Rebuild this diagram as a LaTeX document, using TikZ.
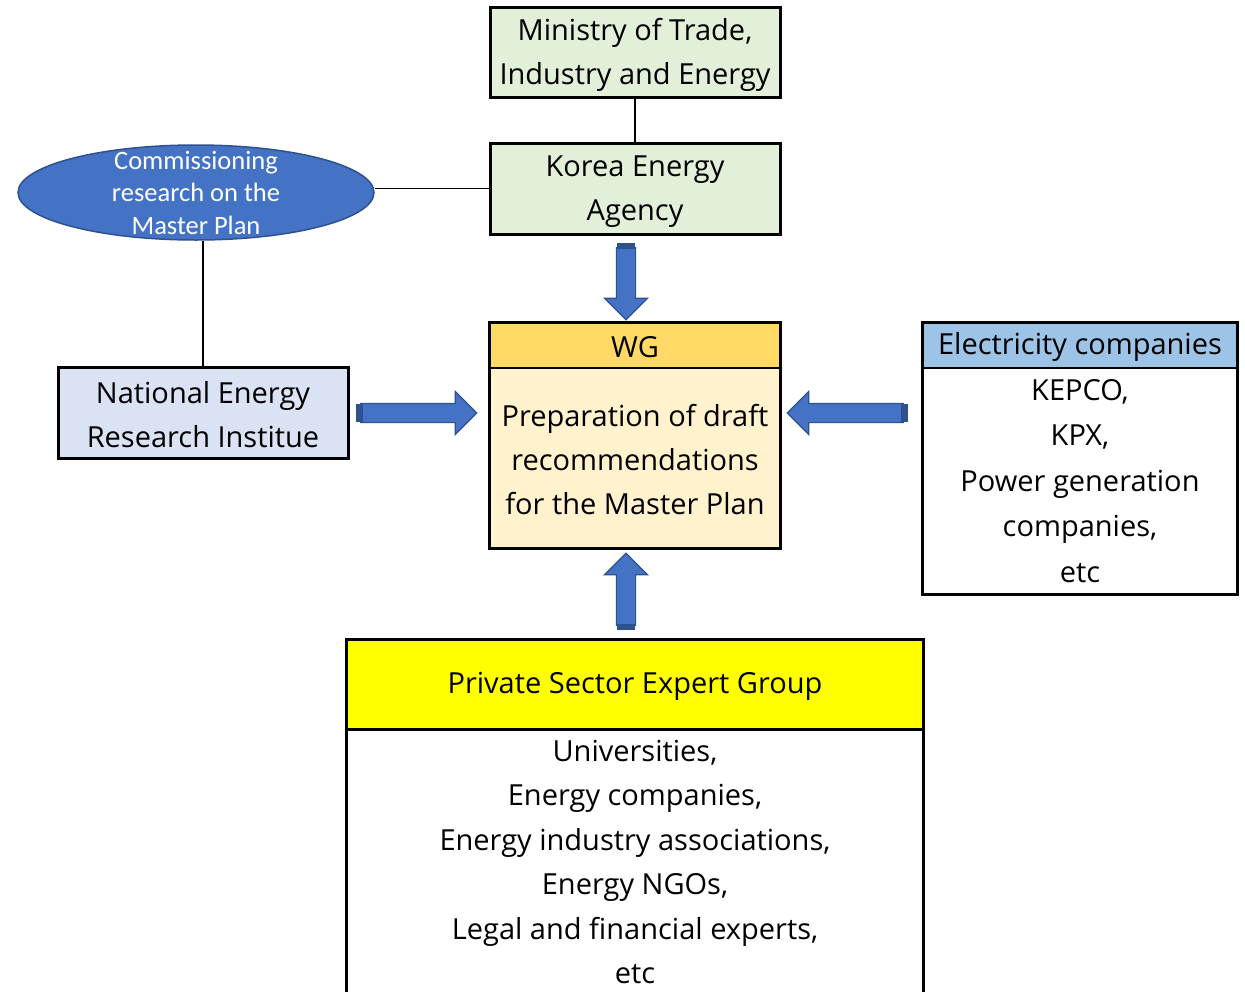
\documentclass[tikz,border=0pt]{standalone}
\usepackage{fontspec}
\setmainfont{Open Sans}
\newfontfamily\ellfont{Carlito}
\usetikzlibrary{shapes.geometric,shapes.arrows}
\definecolor{grn}{HTML}{E2F0D9}
\definecolor{lav}{HTML}{DAE3F3}
\definecolor{wgh}{HTML}{FFD966}
\definecolor{wgb}{HTML}{FFF2CC}
\definecolor{elh}{HTML}{9DC3E6}
\definecolor{ylw}{HTML}{FFFF00}
\definecolor{ablue}{HTML}{4472C4}
\definecolor{adark}{HTML}{2F528F}
\tikzset{
  box/.style={draw, line width=3pt, inner sep=0pt, align=center, minimum width=290pt, font=\fontsize{29}{44}\selectfont},
  hdr/.style={draw, line width=1.5pt, inner sep=0pt, align=center, font=\fontsize{29}{44}\selectfont},
  txt/.style={align=center, inner sep=0pt, font=\fontsize{29}{44}\selectfont},
  barrow/.style={single arrow, draw=adark, fill=ablue, line width=1.2pt, inner sep=9pt, single arrow head extend=12pt, single arrow head indent=0pt},
  conn/.style={draw, line width=1.2pt},
}
\begin{document}
\begin{tikzpicture}[x=1pt,y=-1pt]
\useasboundingbox (0,0) rectangle (1245,991);
\clip (0,0) rectangle (1245,991);
% top boxes
\node[box, fill=grn, minimum height=90pt] (min) at (635,52) {};
\node[txt] (mint) at (635,55) {Ministry of Trade,\\Industry and Energy};
\node[box, fill=grn, minimum height=91pt] (kea) at (635,188.5) {};
\node[txt] (keat) at (635,191.5) {Korea Energy\\Agency};
\node[ellipse, draw=adark, line width=1.5pt, fill=ablue, minimum width=356pt, minimum height=95pt, inner sep=0pt] (ell) at (196,192.5) {};
\node[align=center, text=white, inner sep=0pt, font=\ellfont\fontsize{26.5}{32.5}\selectfont] (ellt) at (196,192.5) {Commissioning\\research on the\\Master Plan};
\node[box, fill=lav, minimum height=91pt] (neri) at (203,412.5) {};
\node[txt] (nerit) at (203,415) {National Energy\\Research Institue};
% WG
\node[hdr, fill=wgh, minimum width=290pt, minimum height=45pt] (wgh) at (635,345.5) {};
\node[txt] (wght) at (635,347) {WG};
\node[hdr, fill=wgb, minimum width=290pt, minimum height=180pt] (wgb) at (635,458) {};
\node[txt] (wgbt) at (635,460) {Preparation of draft\\recommendations\\for the Master Plan};
\draw[line width=3pt] (wgh.north west) rectangle (wgb.south east);
% Electricity
\node[hdr, fill=elh, minimum width=314pt, minimum height=45pt] (elh) at (1080,345.5) {};
\node[txt] (elht) at (1080,347) {Electricity companies};
\node[hdr, fill=white, minimum width=314pt, minimum height=226pt] (elb) at (1080,481) {};
\node[txt, font=\fontsize{29}{45.5}\selectfont] (elbt) at (1080,481) {KEPCO,\\KPX,\\Power generation\\companies,\\etc};
\draw[line width=3pt] (elh.north west) rectangle (elb.south east);
% Private
\node[hdr, fill=ylw, minimum width=576pt, minimum height=89pt] (pvh) at (635,684.5) {};
\node[txt] (pvht) at (635,686) {Private Sector Expert Group};
\node[hdr, fill=white, minimum width=576pt, minimum height=280pt, anchor=north] (pvb) at (635,729) {};
\node[txt, font=\fontsize{29}{44.4}\selectfont] (pvt) at (635,862) {Universities,\\Energy companies,\\Energy industry associations,\\Energy NGOs,\\Legal and financial experts,\\etc};
\draw[line width=3pt] (pvh.north west) rectangle (pvb.south east);
% connectors
\draw[conn] (min.south) -- (kea.north);
\draw[conn] (kea.west) -- (kea.west -| ell.east);
\draw[conn] (neri.north) -- (neri.north |- ell.south);
% block arrows
\node[barrow, shape border rotate=270, minimum height=72pt] (a1) at (626,279) {};
\node[barrow, shape border rotate=0, minimum height=116pt] (a2) at (414,413) {};
\node[barrow, shape border rotate=180, minimum height=116pt] (a3) at (850,413) {};
\node[barrow, shape border rotate=90, minimum height=72pt] (a4) at (626,594) {};
\fill[adark] (617,243) rectangle (635,249);
\fill[adark] (356,404) rectangle (363,422);
\fill[adark] (901,404) rectangle (908,422);
\fill[adark] (617,624) rectangle (635,630);
\end{tikzpicture}
\end{document}
